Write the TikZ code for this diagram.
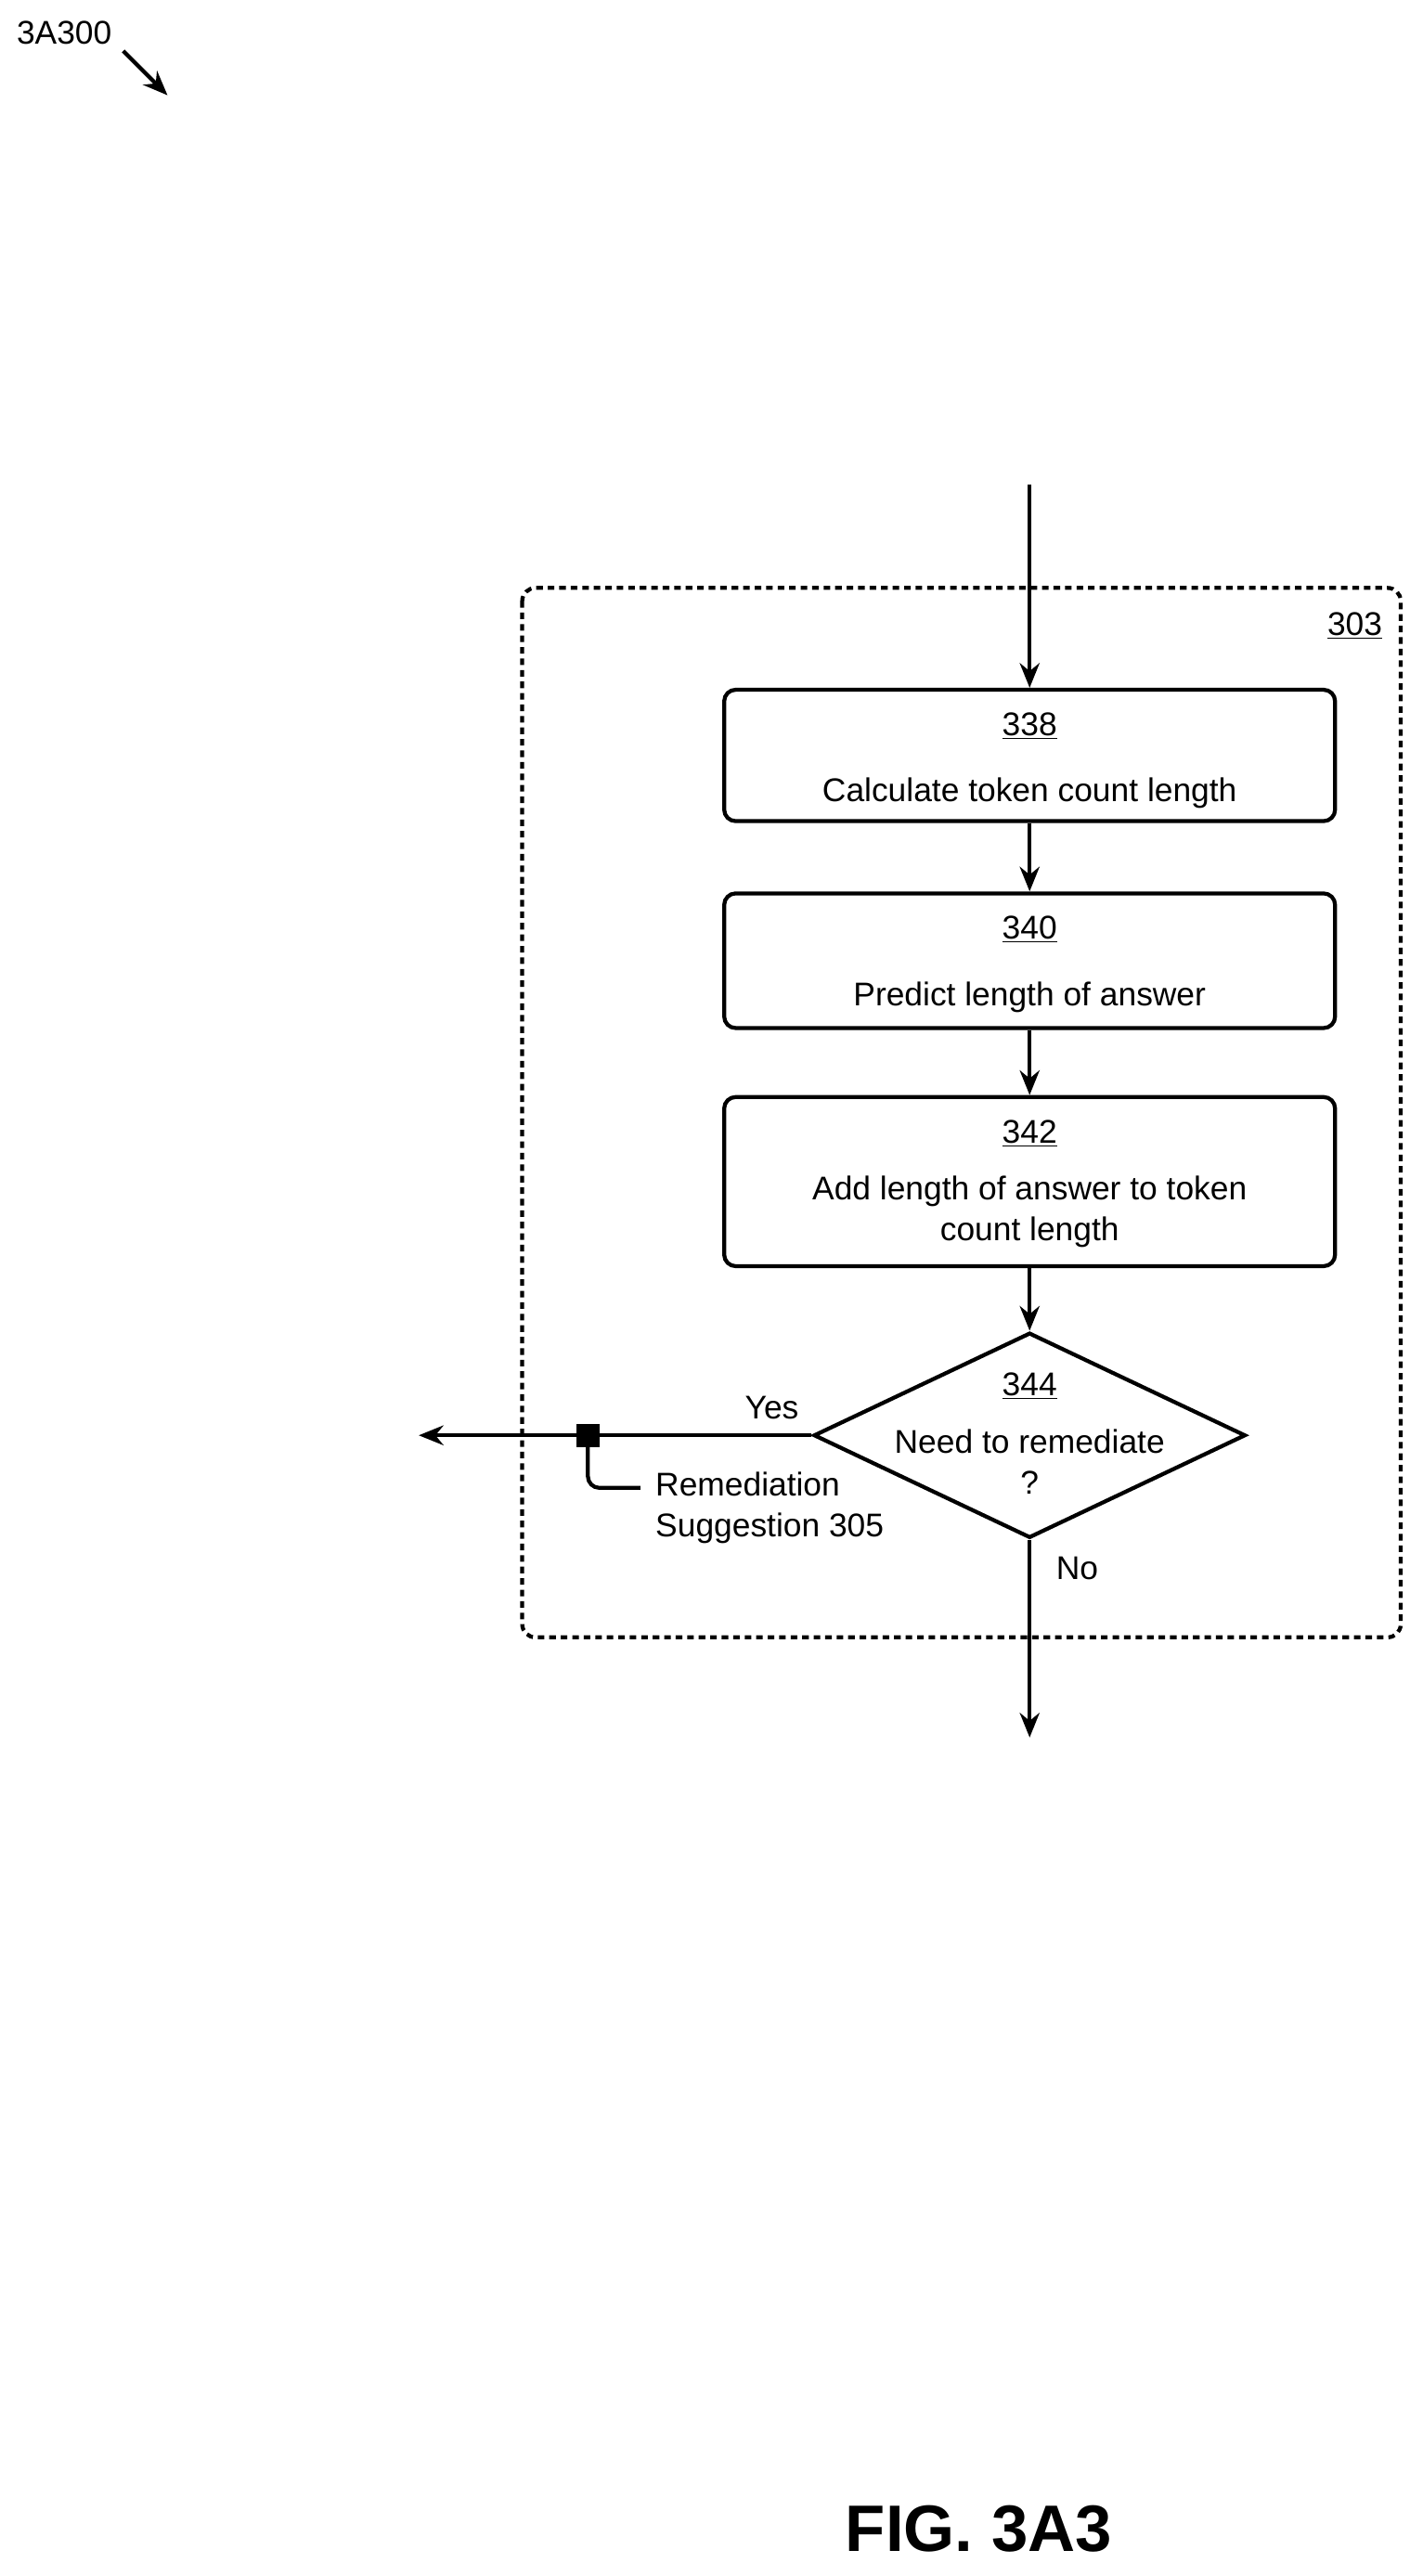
\documentclass[tikz,border=0pt]{standalone}
\usepackage{fontspec}
\setmainfont{Liberation Sans}
\usetikzlibrary{arrows.meta,shapes.geometric}
\begin{document}
\begin{tikzpicture}[x=1pt,y=-1pt,
  lw/.style={line width=2.4pt},
  arr/.style={lw,-{Stealth[length=15pt,width=12pt]}},
  box/.style={lw,draw,rounded corners=7pt,minimum width=372pt,align=center,font=\fontsize{20}{25}\selectfont,inner sep=0pt},
  txt/.style={font=\fontsize{20}{25}\selectfont,inner sep=0pt}]
\useasboundingbox (0,0) rectangle (866,1568.6);
\node[txt,anchor=west] (lab) at (10,20) {3A300};
\coordinate (la) at (102,58);
\draw[arr] (75,31) -- (la);
\draw[lw,dashed,dash pattern=on 4pt off 3pt,rounded corners=8pt] (318,358) rectangle (853,997);
\node[txt] (n303) at (825,381) {\underline{303}};
\node[box,minimum height=80pt] (b338) at (627,460) {};
\node[txt] at (627,442) {\underline{338}};
\node[txt] at (627,483) {Calculate token count length};
\node[box,minimum height=82pt] (b340) at (627,585) {};
\node[txt] at (627,566) {\underline{340}};
\node[txt] at (627,607) {Predict length of answer};
\node[box,minimum height=103pt] (b342) at (627,719.5) {};
\node[txt] at (627,690) {\underline{342}};
\node[txt,align=center] at (627,738) {Add length of answer to token\\count length};
\node[lw,draw,diamond,minimum width=263pt,minimum height=125pt,inner sep=0pt] (d344) at (627,874) {};
\node[txt] at (627,844) {\underline{344}};
\node[txt] at (627,878) {Need to remediate};
\node[txt] at (627,903) {?};
\coordinate (top) at (627,295);
\coordinate (yes) at (255,874);
\coordinate (no) at (627,1058);
\draw[arr] (top) -- (b338.north);
\draw[arr] (b338.south) -- (b340.north);
\draw[arr] (b340.south) -- (b342.north);
\draw[arr] (b342.south) -- (d344.north);
\draw[arr] (d344.west) -- (yes);
\draw[arr] (d344.south) -- (no);
\node[txt] at (470,857) {Yes};
\node[txt] at (656,955) {No};
\node[fill=black,minimum size=14pt,inner sep=0pt] (sq) at (358,874) {};
\node[txt,anchor=west,align=left] (rem) at (399,918) {Remediation\\Suggestion 305};
\draw[lw,rounded corners=7pt] (sq.south) |- (390,906);
\node[font=\bfseries\fontsize{40}{48}\selectfont,inner sep=0pt] (fig) at (596,1540) {FIG. 3A3};
\end{tikzpicture}
\end{document}
